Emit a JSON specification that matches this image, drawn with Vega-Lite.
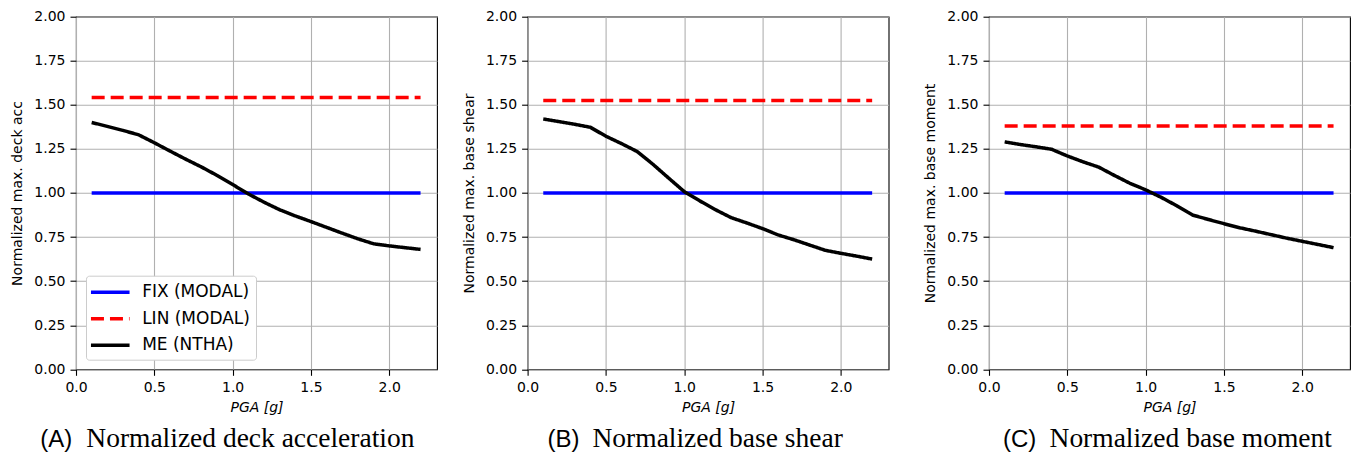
{
  "$schema": "https://vega.github.io/schema/vega-lite/v6.json",
  "background": "#ffffff",
  "padding": {"left": 10, "top": 8.7, "right": 0, "bottom": 0},
  "data": {"values": [
    {"panel":"A","series":"FIX (MODAL)","pga":0.1,"value":1.0},
    {"panel":"A","series":"FIX (MODAL)","pga":2.2,"value":1.0},
    {"panel":"A","series":"LIN (MODAL)","pga":0.1,"value":1.541},
    {"panel":"A","series":"LIN (MODAL)","pga":2.2,"value":1.541},
    {"panel":"A","series":"ME (NTHA)","pga":0.1,"value":1.400},
    {"panel":"A","series":"ME (NTHA)","pga":0.2,"value":1.378},
    {"panel":"A","series":"ME (NTHA)","pga":0.3,"value":1.355},
    {"panel":"A","series":"ME (NTHA)","pga":0.4,"value":1.330},
    {"panel":"A","series":"ME (NTHA)","pga":0.5,"value":1.285},
    {"panel":"A","series":"ME (NTHA)","pga":0.6,"value":1.238},
    {"panel":"A","series":"ME (NTHA)","pga":0.7,"value":1.192},
    {"panel":"A","series":"ME (NTHA)","pga":0.8,"value":1.148},
    {"panel":"A","series":"ME (NTHA)","pga":0.9,"value":1.100},
    {"panel":"A","series":"ME (NTHA)","pga":1.0,"value":1.048},
    {"panel":"A","series":"ME (NTHA)","pga":1.1,"value":0.995},
    {"panel":"A","series":"ME (NTHA)","pga":1.2,"value":0.948},
    {"panel":"A","series":"ME (NTHA)","pga":1.3,"value":0.905},
    {"panel":"A","series":"ME (NTHA)","pga":1.4,"value":0.870},
    {"panel":"A","series":"ME (NTHA)","pga":1.5,"value":0.838},
    {"panel":"A","series":"ME (NTHA)","pga":1.6,"value":0.805},
    {"panel":"A","series":"ME (NTHA)","pga":1.7,"value":0.772},
    {"panel":"A","series":"ME (NTHA)","pga":1.8,"value":0.740},
    {"panel":"A","series":"ME (NTHA)","pga":1.9,"value":0.712},
    {"panel":"A","series":"ME (NTHA)","pga":2.0,"value":0.700},
    {"panel":"A","series":"ME (NTHA)","pga":2.1,"value":0.690},
    {"panel":"A","series":"ME (NTHA)","pga":2.2,"value":0.680},
    {"panel":"B","series":"FIX (MODAL)","pga":0.1,"value":1.0},
    {"panel":"B","series":"FIX (MODAL)","pga":2.2,"value":1.0},
    {"panel":"B","series":"LIN (MODAL)","pga":0.1,"value":1.525},
    {"panel":"B","series":"LIN (MODAL)","pga":2.2,"value":1.525},
    {"panel":"B","series":"ME (NTHA)","pga":0.1,"value":1.420},
    {"panel":"B","series":"ME (NTHA)","pga":0.2,"value":1.405},
    {"panel":"B","series":"ME (NTHA)","pga":0.3,"value":1.390},
    {"panel":"B","series":"ME (NTHA)","pga":0.4,"value":1.373},
    {"panel":"B","series":"ME (NTHA)","pga":0.5,"value":1.322},
    {"panel":"B","series":"ME (NTHA)","pga":0.6,"value":1.280},
    {"panel":"B","series":"ME (NTHA)","pga":0.7,"value":1.235},
    {"panel":"B","series":"ME (NTHA)","pga":0.8,"value":1.163},
    {"panel":"B","series":"ME (NTHA)","pga":0.9,"value":1.085},
    {"panel":"B","series":"ME (NTHA)","pga":1.0,"value":1.008},
    {"panel":"B","series":"ME (NTHA)","pga":1.1,"value":0.955},
    {"panel":"B","series":"ME (NTHA)","pga":1.2,"value":0.905},
    {"panel":"B","series":"ME (NTHA)","pga":1.3,"value":0.860},
    {"panel":"B","series":"ME (NTHA)","pga":1.4,"value":0.830},
    {"panel":"B","series":"ME (NTHA)","pga":1.5,"value":0.798},
    {"panel":"B","series":"ME (NTHA)","pga":1.6,"value":0.762},
    {"panel":"B","series":"ME (NTHA)","pga":1.7,"value":0.735},
    {"panel":"B","series":"ME (NTHA)","pga":1.8,"value":0.705},
    {"panel":"B","series":"ME (NTHA)","pga":1.9,"value":0.675},
    {"panel":"B","series":"ME (NTHA)","pga":2.0,"value":0.658},
    {"panel":"B","series":"ME (NTHA)","pga":2.1,"value":0.642},
    {"panel":"B","series":"ME (NTHA)","pga":2.2,"value":0.625},
    {"panel":"C","series":"FIX (MODAL)","pga":0.1,"value":1.0},
    {"panel":"C","series":"FIX (MODAL)","pga":2.2,"value":1.0},
    {"panel":"C","series":"LIN (MODAL)","pga":0.1,"value":1.380},
    {"panel":"C","series":"LIN (MODAL)","pga":2.2,"value":1.380},
    {"panel":"C","series":"ME (NTHA)","pga":0.1,"value":1.290},
    {"panel":"C","series":"ME (NTHA)","pga":0.2,"value":1.275},
    {"panel":"C","series":"ME (NTHA)","pga":0.3,"value":1.262},
    {"panel":"C","series":"ME (NTHA)","pga":0.4,"value":1.248},
    {"panel":"C","series":"ME (NTHA)","pga":0.5,"value":1.210},
    {"panel":"C","series":"ME (NTHA)","pga":0.6,"value":1.177},
    {"panel":"C","series":"ME (NTHA)","pga":0.7,"value":1.147},
    {"panel":"C","series":"ME (NTHA)","pga":0.8,"value":1.100},
    {"panel":"C","series":"ME (NTHA)","pga":0.9,"value":1.055},
    {"panel":"C","series":"ME (NTHA)","pga":1.0,"value":1.018},
    {"panel":"C","series":"ME (NTHA)","pga":1.1,"value":0.975},
    {"panel":"C","series":"ME (NTHA)","pga":1.2,"value":0.927},
    {"panel":"C","series":"ME (NTHA)","pga":1.3,"value":0.875},
    {"panel":"C","series":"ME (NTHA)","pga":1.4,"value":0.850},
    {"panel":"C","series":"ME (NTHA)","pga":1.5,"value":0.826},
    {"panel":"C","series":"ME (NTHA)","pga":1.6,"value":0.803},
    {"panel":"C","series":"ME (NTHA)","pga":1.7,"value":0.784},
    {"panel":"C","series":"ME (NTHA)","pga":1.8,"value":0.764},
    {"panel":"C","series":"ME (NTHA)","pga":1.9,"value":0.744},
    {"panel":"C","series":"ME (NTHA)","pga":2.0,"value":0.726},
    {"panel":"C","series":"ME (NTHA)","pga":2.1,"value":0.708},
    {"panel":"C","series":"ME (NTHA)","pga":2.2,"value":0.690}
  ]},
  "spacing": 23.6,
  "resolve": {"legend": {"color": "independent", "strokeDash": "independent"}},
  "hconcat": [
    {
      "width": 361, "height": 352.6,
      "layer": [
        {
          "transform": [{"filter": "datum.panel === 'A'"}],
          "mark": {"type": "line", "strokeWidth": 3.5, "strokeCap": "butt"},
          "encoding": {
            "x": {"field": "pga", "type": "quantitative", "scale": {"domain": [0, 2.305], "nice": false, "zero": false}, "axis": {"values": [0, 0.5, 1, 1.5, 2], "format": ".1f", "title": "PGA [g]"}},
            "y": {"field": "value", "type": "quantitative", "scale": {"domain": [0, 2], "nice": false}, "axis": {"values": [0, 0.25, 0.5, 0.75, 1, 1.25, 1.5, 1.75, 2], "format": ".2f", "title": "Normalized max. deck acc"}},
            "color": {"field": "series", "type": "nominal", "scale": {"domain": ["FIX (MODAL)", "LIN (MODAL)", "ME (NTHA)"], "range": ["#0000ff", "#ff0000", "#000000"]},
              "legend": {"title": null, "orient": "bottom-left", "offset": 10, "fillColor": "#ffffff", "strokeColor": "#cccccc", "cornerRadius": 3, "padding": 6, "labelFont": "DejaVu Sans", "labelFontSize": 17, "labelColor": "#000000", "symbolType": "M-2.27,0H2.27", "symbolSize": 289, "symbolOffset": 7.75, "symbolStrokeWidth": 3.5, "rowPadding": 7.5, "labelOffset": 21.4, "labelLimit": 300}},
            "strokeDash": {"field": "series", "type": "nominal", "scale": {"domain": ["FIX (MODAL)", "LIN (MODAL)", "ME (NTHA)"], "range": [[1, 0], [13, 6], [1, 0]]},
              "legend": {"title": null, "orient": "bottom-left", "offset": 10, "fillColor": "#ffffff", "strokeColor": "#cccccc", "cornerRadius": 3, "padding": 6, "labelFont": "DejaVu Sans", "labelFontSize": 17, "labelColor": "#000000", "symbolType": "M-2.27,0H2.27", "symbolSize": 289, "symbolOffset": 7.75, "symbolStrokeWidth": 3.5, "rowPadding": 7.5, "labelOffset": 21.4, "labelLimit": 300}}
          }
        },
        {
          "data": {"values": [{"t": "(A)"}]},
          "mark": {"type": "text", "align": "left", "baseline": "alphabetic", "font": "Liberation Sans", "fontSize": 24, "color": "#000000"},
          "encoding": {"x": {"datum": -0.228, "type": "quantitative"}, "y": {"datum": -0.4407, "type": "quantitative"}, "text": {"field": "t"}}
        },
        {
          "data": {"values": [{"t": "Normalized deck acceleration"}]},
          "mark": {"type": "text", "align": "left", "baseline": "alphabetic", "font": "Liberation Serif", "fontSize": 27.5, "color": "#000000"},
          "encoding": {"x": {"datum": 0.0657, "type": "quantitative"}, "y": {"datum": -0.4407, "type": "quantitative"}, "text": {"field": "t"}}
        }
      ]
    },
    {
      "spacing": 33.4,
      "resolve": {"legend": {"color": "independent", "strokeDash": "independent"}},
      "hconcat": [
        {
          "width": 361, "height": 352.6,
          "layer": [
            {
              "transform": [{"filter": "datum.panel === 'B'"}],
              "mark": {"type": "line", "strokeWidth": 3.5, "strokeCap": "butt"},
              "encoding": {
                "x": {"field": "pga", "type": "quantitative", "scale": {"domain": [0, 2.305], "nice": false, "zero": false}, "axis": {"values": [0, 0.5, 1, 1.5, 2], "format": ".1f", "title": "PGA [g]"}},
                "y": {"field": "value", "type": "quantitative", "scale": {"domain": [0, 2], "nice": false}, "axis": {"values": [0, 0.25, 0.5, 0.75, 1, 1.25, 1.5, 1.75, 2], "format": ".2f", "title": "Normalized max. base shear"}},
                "color": {"field": "series", "type": "nominal", "scale": {"domain": ["FIX (MODAL)", "LIN (MODAL)", "ME (NTHA)"], "range": ["#0000ff", "#ff0000", "#000000"]}, "legend": null},
                "strokeDash": {"field": "series", "type": "nominal", "scale": {"domain": ["FIX (MODAL)", "LIN (MODAL)", "ME (NTHA)"], "range": [[1, 0], [13, 6], [1, 0]]}, "legend": null}
              }
            },
            {
              "data": {"values": [{"t": "(B)"}]},
              "mark": {"type": "text", "align": "left", "baseline": "alphabetic", "font": "Liberation Sans", "fontSize": 24, "color": "#000000"},
              "encoding": {"x": {"datum": 0.1276, "type": "quantitative"}, "y": {"datum": -0.4407, "type": "quantitative"}, "text": {"field": "t"}}
            },
            {
              "data": {"values": [{"t": "Normalized base shear"}]},
              "mark": {"type": "text", "align": "left", "baseline": "alphabetic", "font": "Liberation Serif", "fontSize": 27.5, "color": "#000000"},
              "encoding": {"x": {"datum": 0.4145, "type": "quantitative"}, "y": {"datum": -0.4407, "type": "quantitative"}, "text": {"field": "t"}}
            }
          ]
        },
        {
          "width": 361, "height": 352.6,
          "layer": [
            {
              "transform": [{"filter": "datum.panel === 'C'"}],
              "mark": {"type": "line", "strokeWidth": 3.5, "strokeCap": "butt"},
              "encoding": {
                "x": {"field": "pga", "type": "quantitative", "scale": {"domain": [0, 2.305], "nice": false, "zero": false}, "axis": {"values": [0, 0.5, 1, 1.5, 2], "format": ".1f", "title": "PGA [g]"}},
                "y": {"field": "value", "type": "quantitative", "scale": {"domain": [0, 2], "nice": false}, "axis": {"values": [0, 0.25, 0.5, 0.75, 1, 1.25, 1.5, 1.75, 2], "format": ".2f", "title": "Normalized max. base moment"}},
                "color": {"field": "series", "type": "nominal", "scale": {"domain": ["FIX (MODAL)", "LIN (MODAL)", "ME (NTHA)"], "range": ["#0000ff", "#ff0000", "#000000"]}, "legend": null},
                "strokeDash": {"field": "series", "type": "nominal", "scale": {"domain": ["FIX (MODAL)", "LIN (MODAL)", "ME (NTHA)"], "range": [[1, 0], [13, 6], [1, 0]]}, "legend": null}
              }
            },
            {
              "data": {"values": [{"t": "(C)"}]},
              "mark": {"type": "text", "align": "left", "baseline": "alphabetic", "font": "Liberation Sans", "fontSize": 24, "color": "#000000"},
              "encoding": {"x": {"datum": 0.0893, "type": "quantitative"}, "y": {"datum": -0.4407, "type": "quantitative"}, "text": {"field": "t"}}
            },
            {
              "data": {"values": [{"t": "Normalized base moment"}]},
              "mark": {"type": "text", "align": "left", "baseline": "alphabetic", "font": "Liberation Serif", "fontSize": 27.5, "color": "#000000"},
              "encoding": {"x": {"datum": 0.3865, "type": "quantitative"}, "y": {"datum": -0.4407, "type": "quantitative"}, "text": {"field": "t"}}
            }
          ]
        }
      ]
    }
  ],
  "config": {
    "view": {"stroke": "#000000", "strokeWidth": 1.1},
    "axis": {"grid": true, "gridColor": "#b0b0b0", "gridWidth": 1.1, "domain": false, "ticks": true, "tickColor": "#000000", "tickSize": 6, "tickWidth": 1.1, "labelFont": "DejaVu Sans", "labelFontSize": 14, "labelColor": "#000000", "labelPadding": 5, "labelFlush": false, "titleFont": "DejaVu Sans", "titleFontSize": 14, "titleFontWeight": "normal", "titleColor": "#000000"},
    "axisX": {"titlePadding": 6, "titleFontStyle": "italic"},
    "axisY": {"titlePadding": 9}
  }
}
